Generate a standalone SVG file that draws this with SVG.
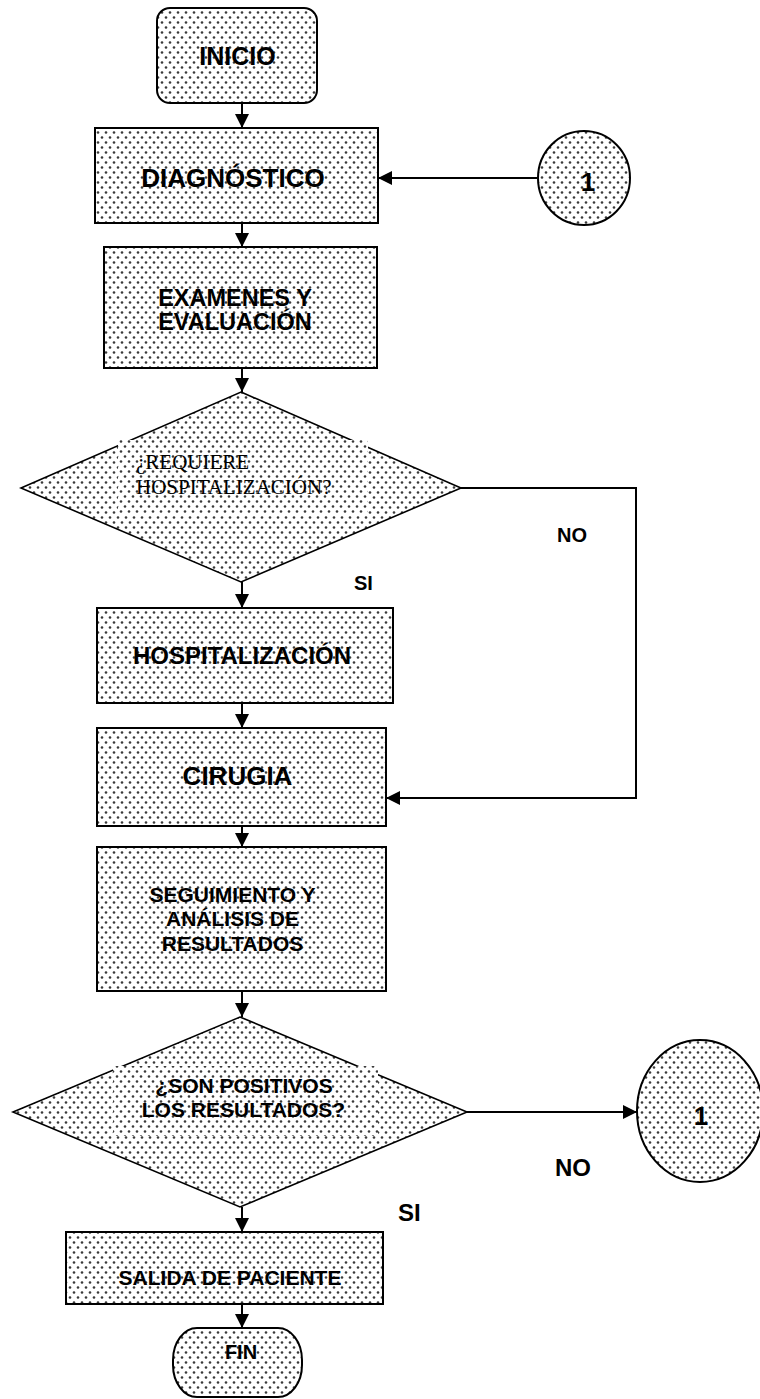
<svg xmlns="http://www.w3.org/2000/svg" width="760" height="1399" viewBox="0 0 760 1399">
  <defs>
    <!-- stippled fill used by every shape -->
    <pattern id="dots" width="8" height="10" patternUnits="userSpaceOnUse">
      <rect width="8" height="10" fill="#fff"/>
      <circle cx="2" cy="2.5" r="1.3" fill="#3a3a3a"/>
      <circle cx="6" cy="7.5" r="1.3" fill="#3a3a3a"/>
    </pattern>
    <pattern id="dots2" width="8" height="10" patternUnits="userSpaceOnUse" patternTransform="translate(3,4)">
      <rect width="8" height="10" fill="#fff"/>
      <circle cx="2" cy="2.5" r="1.3" fill="#3a3a3a"/>
      <circle cx="6" cy="7.5" r="1.3" fill="#3a3a3a"/>
    </pattern>
    <marker id="arrow" viewBox="0 0 10 10" refX="10" refY="5" markerWidth="14" markerHeight="14" markerUnits="userSpaceOnUse" orient="auto">
      <path d="M0,0 L10,5 L0,10 z" fill="#000"/>
    </marker>
  </defs>
  <style>
    .shape { fill: url(#dots); stroke: #000; stroke-width: 2; }
    .dia { fill: url(#dots); stroke: #000; stroke-width: 1.6; }
    .tbox { fill: url(#dots2); stroke: none; }
    .lbl { font-family: "Liberation Sans", Arial, sans-serif; font-weight: bold; fill: #000; text-anchor: middle; }
    .edge { font-family: "Liberation Sans", Arial, sans-serif; font-weight: bold; fill: #000; }
    .serif { font-family: "Liberation Serif", "Times New Roman", serif; fill: #000; font-size: 21px; }
    .conn { fill: none; stroke: #000; stroke-width: 2; }
  </style>

  <!-- connectors -->
  <g id="connectors">
    <line class="conn" x1="242" y1="103" x2="242" y2="128" marker-end="url(#arrow)"/>
    <line class="conn" x1="537" y1="178" x2="378" y2="178" marker-end="url(#arrow)"/>
    <line class="conn" x1="242" y1="223" x2="242" y2="247" marker-end="url(#arrow)"/>
    <line class="conn" x1="242" y1="368" x2="242" y2="392" marker-end="url(#arrow)"/>
    <line class="conn" x1="242" y1="582" x2="242" y2="608" marker-end="url(#arrow)"/>
    <polyline class="conn" points="461,488 636,488 636,798 386,798" marker-end="url(#arrow)"/>
    <line class="conn" x1="242" y1="703" x2="242" y2="728" marker-end="url(#arrow)"/>
    <line class="conn" x1="242" y1="826" x2="242" y2="847" marker-end="url(#arrow)"/>
    <line class="conn" x1="242" y1="991" x2="242" y2="1017" marker-end="url(#arrow)"/>
    <line class="conn" x1="467" y1="1112" x2="637" y2="1112" marker-end="url(#arrow)"/>
    <line class="conn" x1="242" y1="1207" x2="242" y2="1232" marker-end="url(#arrow)"/>
    <line class="conn" x1="242" y1="1304" x2="242" y2="1328" marker-end="url(#arrow)"/>
  </g>

  <g id="inicio">
    <rect class="shape" x="157" y="8" width="160" height="95" rx="13"/>
    <text class="lbl" x="237.5" y="65" font-size="25">INICIO</text>
  </g>

  <g id="diagnostico">
    <rect class="shape" x="95" y="128" width="283" height="95"/>
    <text class="lbl" x="233" y="187" font-size="26">DIAGNÓSTICO</text>
  </g>

  <g id="conector-1a">
    <ellipse class="shape" cx="584" cy="178" rx="46" ry="47"/>
    <text class="lbl" x="588" y="191" font-size="26">1</text>
  </g>

  <g id="examenes">
    <rect class="shape" x="104" y="247" width="273" height="121"/>
    <text class="lbl" x="235" y="306" font-size="23.5">EXAMENES Y</text>
    <text class="lbl" x="235" y="330" font-size="23.5">EVALUACIÓN</text>
  </g>

  <g id="requiere-hospitalizacion">
    <polygon class="dia" points="241,392 461,488 241,582 21,488"/>
    <rect class="tbox" x="118" y="440" width="250" height="74"/>
    <text class="serif" x="136" y="469">¿REQUIERE</text>
    <text class="serif" x="136" y="494">HOSPITALIZACIÓN?</text>
  </g>

  <g id="hospitalizacion">
    <rect class="shape" x="97" y="608" width="296" height="95"/>
    <text class="lbl" x="242" y="664" font-size="24">HOSPITALIZACIÓN</text>
  </g>

  <g id="cirugia">
    <rect class="shape" x="97" y="728" width="289" height="98"/>
    <text class="lbl" x="237.5" y="785" font-size="26">CIRUGIA</text>
  </g>

  <g id="seguimiento">
    <rect class="shape" x="97" y="847" width="289" height="144"/>
    <text class="lbl" x="232.5" y="902" font-size="21">SEGUIMIENTO Y</text>
    <text class="lbl" x="232.5" y="926" font-size="21">ANÁLISIS DE</text>
    <text class="lbl" x="232.5" y="951" font-size="21">RESULTADOS</text>
  </g>

  <g id="resultados-positivos">
    <polygon class="dia" points="240,1017 467,1112 240,1207 13,1112"/>
    <rect class="tbox" x="113" y="1066" width="265" height="70"/>
    <text class="lbl" x="244" y="1093" font-size="21">¿SON POSITIVOS</text>
    <text class="lbl" x="243.5" y="1117" font-size="21">LOS RESULTADOS?</text>
  </g>

  <g id="conector-1b">
    <ellipse class="shape" cx="700" cy="1111" rx="63" ry="71"/>
    <text class="lbl" x="701" y="1125" font-size="26">1</text>
  </g>

  <g id="salida">
    <rect class="shape" x="66" y="1232" width="317" height="72"/>
    <text class="lbl" x="230" y="1285" font-size="21">SALIDA DE PACIENTE</text>
  </g>

  <g id="fin">
    <rect class="shape" x="173" y="1328" width="129" height="69" rx="24" ry="32"/>
    <text class="lbl" x="241" y="1359" font-size="20">FIN</text>
  </g>

  <!-- branch labels -->
  <g id="labels">
    <text class="edge" x="557" y="542" font-size="20">NO</text>
    <text class="edge" x="354" y="590" font-size="20">SI</text>
    <text class="edge" x="555" y="1176" font-size="24">NO</text>
    <text class="edge" x="398" y="1221" font-size="24">SI</text>
  </g>
</svg>
